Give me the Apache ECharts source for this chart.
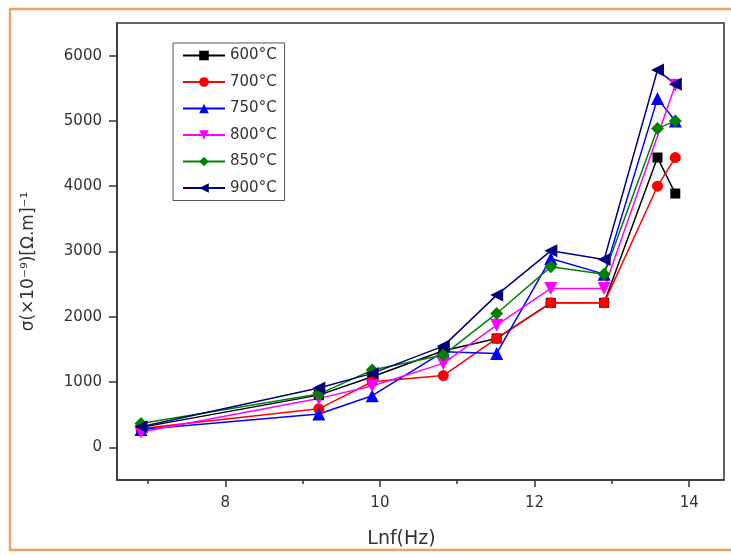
<!DOCTYPE html>
<html lang="en">
<head>
  <meta charset="UTF-8">
  <title>σ vs Lnf</title>
  <style>
    body {
      margin: 0;
      padding: 0;
      background: #fff;
    }
  </style>
</head>
<body>
  <div id="main" style="width: 731px; height: 556px;"></div>
</body>
</html>
<script src="https://cdnjs.cloudflare.com/ajax/libs/echarts/6.0.0/echarts.min.js"></script>
<script>
// ln of the measuring frequency
var lnf = [6.91, 9.21, 9.90, 10.82, 11.51, 12.21, 12.90, 13.59, 13.82]

var s600 = [306, 800, 1082, 1480, 1668, 2214, 2214, 4439, 3888]
var s700 = [290, 590, 1005, 1100, 1668, 2214, 2214, 4000, 4439]
var s750 = [275, 510, 791, 1464, 1439, 2893, 2653, 5342, 5000]
var s800 = [235, 750, 939, 1286, 1872, 2434, 2434, null, 5546]
var s850 = [367, 816, 1184, 1413, 2051, 2765, 2653, 4883, 5000]
var s900 = [316, 910, 1133, 1551, 2332, 3010, 2878, 5780, 5561]

var names = ['600°C', '700°C', '750°C', '800°C', '850°C', '900°C']
var yTicks = [0, 1000, 2000, 3000, 4000, 5000, 6000]
var xLabels = [8, 10, 12, 14]
var xMinor = [7, 9, 11, 13]

var font = 'DejaVu Sans'

function pairs(ys) {
  return ys.map(function(y, i) { return [lnf[i], y] })
}

function line(name, ys, color, symbol, size, rotate) {
  return {
    name: name,
    type: 'line',
    xAxisIndex: 0,
    data: pairs(ys),
    connectNulls: true,
    symbol: symbol,
    symbolSize: size,
    symbolRotate: rotate || 0,
    lineStyle: { color: color, width: 1.5 },
    itemStyle: { color: color },
    emphasis: { disabled: true }
  }
}

var chart = echarts.init(document.getElementById('main'))

var option = {
  animation: false,
  backgroundColor: '#fff',
  graphic: [
    {
      type: 'rect',
      shape: { x: 10, y: 9, width: 740, height: 541 },
      style: { fill: 'none', stroke: '#eba264', lineWidth: 2.5 },
      z: -1
    }
  ],
  grid: {
    left: 117,
    top: 23,
    width: 607,
    height: 457,
    show: true,
    borderColor: '#333',
    borderWidth: 1.5,
    backgroundColor: 'transparent'
  },
  legend: {
    left: 173,
    top: 43,
    orient: 'vertical',
    itemWidth: 42,
    itemHeight: 12,
    itemGap: 11.5,
    padding: [5, 8, 5, 9],
    borderColor: '#555',
    borderWidth: 1,
    data: names,
    textStyle: { fontFamily: font, fontSize: 15, color: '#333' }
  },
  xAxis: [
    {
      type: 'value',
      min: 6.6,
      max: 14.45,
      position: 'bottom',
      name: 'Lnf(Hz)',
      nameLocation: 'middle',
      nameGap: 50,
      nameTextStyle: { fontFamily: font, fontSize: 19, color: '#333', padding: [0, 38, 0, 0] },
      axisLine: { show: true, onZero: false, lineStyle: { color: '#333', width: 1.5 } },
      axisTick: { show: true, length: 7, customValues: xLabels, lineStyle: { color: '#333', width: 1.5 } },
      axisLabel: { customValues: xLabels, margin: 16, fontFamily: font, fontSize: 15, color: '#333' },
      splitLine: { show: false }
    },
    {
      type: 'value',
      min: 6.6,
      max: 14.45,
      position: 'bottom',
      axisLine: { show: false, onZero: false },
      axisTick: { show: true, length: 4, customValues: xMinor, lineStyle: { color: '#333', width: 1.5 } },
      axisLabel: { show: false },
      splitLine: { show: false }
    }
  ],
  yAxis: {
    type: 'value',
    min: -500,
    max: 6500,
    name: 'σ(×10⁻⁹)[Ω.m]⁻¹',
    nameLocation: 'middle',
    nameGap: 80,
    nameTextStyle: { fontFamily: font, fontSize: 17, color: '#333', padding: [0, 20, 0, 0] },
    axisLine: { show: true, onZero: false, lineStyle: { color: '#333', width: 1.5 } },
    axisTick: { show: true, length: 8, customValues: yTicks, lineStyle: { color: '#333', width: 1.5 } },
    axisLabel: {
      customValues: yTicks,
      margin: 15,
      fontFamily: font,
      fontSize: 15,
      color: '#333',
      formatter: function(v) { return String(v) }
    },
    splitLine: { show: false }
  },
  series: [
    line(names[0], s600, '#000000', 'rect', 10),
    line(names[1], s700, '#ff0000', 'circle', 11),
    line(names[2], s750, '#0000ff', 'triangle', 13),
    line(names[3], s800, '#ff00ff', 'triangle', 13, 180),
    line(names[4], s850, '#008000', 'diamond', 13),
    line(names[5], s900, '#000080', 'triangle', 13, 90)
  ]
}

chart.setOption(option)
</script>
